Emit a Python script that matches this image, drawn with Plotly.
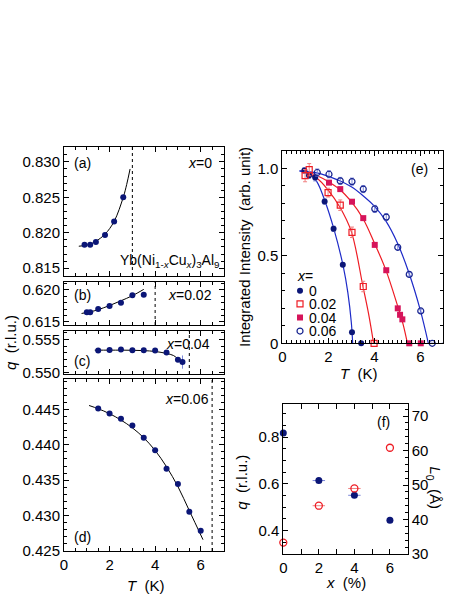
import plotly.graph_objects as go

# ---- data: panels (a)-(d), modulation q vs T ----
T_a = [0.9, 1.15, 1.4, 1.8, 2.2, 2.6]
q_a = [0.8183, 0.8183, 0.8187, 0.8197, 0.8216, 0.8250]
fitT_a = [0.65, 0.9, 1.15, 1.4, 1.8, 2.2, 2.6, 2.75, 2.9]
fitq_a = [0.8181, 0.8182, 0.8184, 0.8188, 0.8198, 0.8216, 0.8250, 0.8268, 0.8290]

T_b = [1.0, 1.15, 1.5, 2.0, 2.5, 3.0, 3.5]
q_b = [0.6165, 0.6165, 0.6170, 0.61747, 0.6180, 0.61916, 0.61926]
fitT_b = [0.77, 1.15, 1.5, 2.0, 2.5, 3.0, 3.5]
fitq_b = [0.6163, 0.61655, 0.6169, 0.61755, 0.6183, 0.6191, 0.6201]

T_c = [1.5, 2.0, 2.5, 3.0, 3.5, 4.0, 4.5, 5.0, 5.2]
q_c = [0.55335, 0.55344, 0.5535, 0.5534, 0.5534, 0.55335, 0.55305, 0.55194, 0.5516]
err_c = [0, 0, 0, 0, 0, 0, 0, 0, 0.001]
fitT_c = [1.35, 2.0, 2.5, 3.0, 3.5, 4.0, 4.5, 4.8, 5.0, 5.2]
fitq_c = [0.5534, 0.5534, 0.5534, 0.55338, 0.55333, 0.5532, 0.5529, 0.5526, 0.5521, 0.5516]

T_d = [1.5, 2.0, 2.5, 3.0, 3.5, 4.0, 4.5, 5.0, 5.5, 6.0]
q_d = [0.44514, 0.44444, 0.44367, 0.44274, 0.44099, 0.43925, 0.43661, 0.43445, 0.43054, 0.42785]
fitT_d = [1.1, 1.5, 2.0, 2.5, 3.0, 3.5, 4.0, 4.5, 5.0, 5.5, 6.1]
fitq_d = [0.44556, 0.4451, 0.4444, 0.4435, 0.4424, 0.4410, 0.4392, 0.4369, 0.4341, 0.4307, 0.4266]

# transition temperatures (dotted lines)
Tn = [3.0, 4.0, 5.5, 6.5]

# ---- data: panel (e), integrated intensity ----
T_e0 = [0.96, 1.16, 1.43, 1.84, 2.23, 2.63, 3.03, 3.43]
I_e0 = [0.989, 0.960, 0.949, 0.811, 0.655, 0.449, 0.063, 0.0]
err_e0 = [0.015, 0.015, 0.02, 0.015, 0.015, 0.01, 0.01, 0]
T_e02 = [0.99, 1.17, 1.99, 2.52, 3.03, 3.52, 3.99]
I_e02 = [0.959, 0.993, 0.862, 0.790, 0.635, 0.325, 0.0]
err_e02 = [0.035, 0.035, 0.025, 0.03, 0.03, 0.03, 0]
T_e04 = [2.03, 2.52, 3.03, 3.52, 4.02, 4.52, 5.02, 5.12, 5.22, 5.52, 6.02]
I_e04 = [0.919, 0.882, 0.810, 0.716, 0.563, 0.418, 0.200, 0.163, 0.137, 0.0, 0.0]
T_e06 = [1.52, 2.03, 2.52, 3.03, 3.52, 4.02, 4.52, 5.02, 5.52, 6.02, 6.52, 7.02]
I_e06 = [0.977, 0.967, 0.929, 0.925, 0.882, 0.769, 0.722, 0.549, 0.394, 0.185, 0.0, 0.0]
err_e06 = [0.02, 0.02, 0.02, 0.02, 0.02, 0.02, 0.02, 0.015, 0.01, 0.01, 0, 0]

fitT_e0 = [0.75, 1.2, 1.5, 1.85, 2.25, 2.65, 2.85, 3.0, 3.06]
fitI_e0 = [0.986, 0.965, 0.925, 0.815, 0.650, 0.440, 0.29, 0.12, 0.0]
fitT_e02 = [0.9, 1.5, 2.0, 2.5, 3.0, 3.5, 3.75, 3.97]
fitI_e02 = [0.986, 0.945, 0.875, 0.78, 0.64, 0.33, 0.17, 0.0]
fitT_e04 = [1.0, 1.5, 2.0, 2.5, 3.0, 3.5, 4.0, 4.5, 5.0, 5.25, 5.44]
fitI_e04 = [0.985, 0.96, 0.925, 0.88, 0.81, 0.715, 0.575, 0.42, 0.22, 0.11, 0.0]
fitT_e06 = [0.75, 1.5, 2.0, 2.5, 3.0, 3.5, 4.0, 4.5, 5.0, 5.5, 6.0, 6.35]
fitI_e06 = [0.986, 0.975, 0.955, 0.93, 0.895, 0.845, 0.785, 0.70, 0.575, 0.405, 0.19, 0.0]

legend_names = ["0", "0.02", "0.04", "0.06"]
legend_T = [0.77, 0.77, 0.77, 0.77]
legend_I = [0.30, 0.225, 0.147, 0.070]

# ---- data: panel (f) ----
x_f = [0, 2, 4, 6]
q_f = [0.817, 0.614, 0.551, 0.444]
L0_f = [33.3, 44.0, 49.0, 60.8]
xerr_f = [0, 0.35, 0.35, 0]

NAVY = "#0b1677"
BLUE = "#1e2bc8"
RED = "#ee1c24"
CRIMSON = "#d6145a"
FONT = "Liberation Sans, Arial, sans-serif"

W, H = 463, 599


def dx(p):
    return p / W


def dy(p):
    return 1 - p / H


fig = go.Figure()

panels = [
    ("x", "y", T_a, q_a, None, fitT_a, fitq_a),
    ("x2", "y2", T_b, q_b, None, fitT_b, fitq_b),
    ("x3", "y3", T_c, q_c, err_c, fitT_c, fitq_c),
    ("x4", "y4", T_d, q_d, None, fitT_d, fitq_d),
]
for (xa, ya, tt, qq, ee, ft, fq) in panels:
    fig.add_trace(go.Scatter(x=ft, y=fq, xaxis=xa, yaxis=ya, mode="lines",
                             line=dict(color="black", width=1, shape="spline"),
                             showlegend=False, hoverinfo="skip"))
    fig.add_trace(go.Scatter(
        x=tt, y=qq, xaxis=xa, yaxis=ya, mode="markers",
        marker=dict(color=NAVY, size=6),
        error_y=dict(type="data", array=ee, color="#7c86d8", thickness=1, width=0) if ee else None,
        showlegend=False))

# dotted transition lines
for (xa, ya), t in zip([("x", "y"), ("x2", "y2"), ("x3", "y3"), ("x4", "y4")], Tn):
    fig.add_shape(type="line", xref=xa, yref=ya + " domain", x0=t, x1=t, y0=0, y1=1,
                  line=dict(color="black", width=1, dash="dot"))

# panel (e) fits
for ft, fi, col in [(fitT_e0, fitI_e0, BLUE), (fitT_e02, fitI_e02, RED),
                    (fitT_e04, fitI_e04, RED), (fitT_e06, fitI_e06, BLUE)]:
    fig.add_trace(go.Scatter(x=ft, y=fi, xaxis="x5", yaxis="y5", mode="lines",
                             line=dict(color=col, width=1.2, shape="spline"),
                             showlegend=False, hoverinfo="skip", cliponaxis=False))

e_series = [
    (T_e0, I_e0, err_e0, dict(symbol="circle", color=NAVY, size=6), "#7c86d8"),
    (T_e02, I_e02, err_e02, dict(symbol="square-open", color=RED, size=6, line=dict(width=1.2)), "#f08080"),
    (T_e04, I_e04, None, dict(symbol="square", color=CRIMSON, size=6), "#f08080"),
    (T_e06, I_e06, err_e06, dict(symbol="circle-open", color="#16238f", size=6, line=dict(width=1.2)), "#7c86d8"),
]
for tt, ii, ee, mk, ec in e_series:
    fig.add_trace(go.Scatter(
        x=tt, y=ii, xaxis="x5", yaxis="y5", mode="markers", marker=mk, cliponaxis=False,
        error_y=dict(type="data", array=ee, color=ec, thickness=1, width=2) if ee else None,
        showlegend=False))

# hand-made legend inside (e)
for (tt, ii, ee, mk, ec), lt, li, nm in zip(e_series, legend_T, legend_I, legend_names):
    fig.add_trace(go.Scatter(x=[lt], y=[li], xaxis="x5", yaxis="y5", mode="markers",
                             marker=mk, showlegend=False, hoverinfo="skip"))
    fig.add_annotation(x=lt, y=li, xref="x5", yref="y5", text=nm, showarrow=False,
                       xanchor="left", xshift=7, font=dict(size=14, family=FONT, color="black"))
fig.add_annotation(x=legend_T[0], y=legend_I[0], xref="x5", yref="y5", text="<i>x</i>=",
                   showarrow=False, xanchor="left", yshift=15, xshift=-5,
                   font=dict(size=14, family=FONT, color="black"))

# panel (f)
fig.add_trace(go.Scatter(x=x_f, y=q_f, xaxis="x6", yaxis="y6", mode="markers",
                         marker=dict(color=NAVY, size=7), cliponaxis=False,
                         error_x=dict(type="data", array=xerr_f, color="#7c86d8", thickness=1, width=0),
                         showlegend=False))
fig.add_trace(go.Scatter(x=x_f, y=L0_f, xaxis="x6", yaxis="y7", mode="markers",
                         marker=dict(symbol="circle-open", color=RED, size=7, line=dict(width=1.3)),
                         cliponaxis=False,
                         error_x=dict(type="data", array=xerr_f, color="#f08080", thickness=1, width=0),
                         showlegend=False))

tickfont = dict(size=15, family=FONT, color="black")
common = dict(showline=True, linecolor="black", linewidth=1, ticks="inside", ticklen=5,
              tickcolor="black", showgrid=False, zeroline=False, mirror="allticks",
              tickfont=tickfont, automargin=False)

left_x = [dx(64), dx(223.5)]
layout = dict(
    width=W, height=H, margin=dict(l=0, r=0, t=0, b=0),
    paper_bgcolor="white", plot_bgcolor="white", showlegend=False,
    font=dict(family=FONT, color="black"),
)
y_specs = [
    ("", [276, 147], [0.8139, 0.8321], 0.005, 0.001, ".3f"),
    ("2", [325, 282], [0.61448, 0.62126], 0.005, 0.001, ".3f"),
    ("3", [374, 331], [0.5498, 0.55629], 0.005, 0.001, ".3f"),
    ("4", [551, 379], [0.425, 0.4493], 0.005, 0.001, ".3f"),
]
for s, (b, t), rng, dt, mdt, fmt in y_specs:
    layout["xaxis" + s] = dict(common, domain=left_x, anchor="y" + s, range=[0, 7],
                               dtick=2, tick0=0, showticklabels=(s == "4"),
                               minor=dict(dtick=0.5, ticklen=3, ticks="inside", tickcolor="black"))
    layout["yaxis" + s] = dict(common, domain=[dy(b), dy(t)], anchor="x" + s, range=rng,
                               dtick=dt, tick0=0, tickformat=fmt,
                               minor=dict(dtick=mdt, ticklen=3, ticks="inside", tickcolor="black"))

layout["xaxis5"] = dict(common, domain=[dx(282.3), dx(443.3)], anchor="y5", range=[0, 7],
                        dtick=2, tick0=0,
                        minor=dict(dtick=0.2, ticklen=3, ticks="inside", tickcolor="black"))
layout["yaxis5"] = dict(common, domain=[dy(343.3), dy(151)], anchor="x5", range=[0, 1.1],
                        tickvals=[0, 0.5, 1.0], ticktext=["0", "0.5", "1.0"],
                        minor=dict(dtick=0.1, ticklen=3, ticks="inside", tickcolor="black"))

layout["xaxis6"] = dict(common, domain=[dx(283.3), dx(407.7)], anchor="y6", range=[0, 7],
                        dtick=2, tick0=0,
                        minor=dict(dtick=1, ticklen=3, ticks="inside", tickcolor="black"))
layout["yaxis6"] = dict(common, domain=[dy(554), dy(404.3)], anchor="x6", range=[0.3, 0.94],
                        dtick=0.2, tick0=0, tickformat=".1f", mirror=True,
                        minor=dict(dtick=0.05, ticklen=3, ticks="inside", tickcolor="black"))
layout["yaxis7"] = dict(common, anchor="x6", overlaying="y6", side="right", range=[30, 73.4],
                        dtick=10, tick0=0, mirror=False,
                        minor=dict(dtick=2, ticklen=3, ticks="inside", tickcolor="black"))
fig.update_layout(**layout)

# text labels, placed in pixel terms
txt = dict(size=14, family=FONT, color="black")
labels = [
    ("(a)", 72, 162.7, "left"), ("<i>x</i>=0", 214, 162.7, "right"),
    ("Yb(Ni<sub>1-<i>x</i></sub>Cu<sub><i>x</i></sub>)<sub>3</sub>Al<sub>9</sub>", 221, 261, "right"),
    ("(b)", 72, 295, "left"), ("<i>x</i>=0.02", 213.5, 295, "right"),
    ("(c)", 72, 361, "left"), ("<i>x</i>=0.04", 212, 344.3, "right"),
    ("<i>x</i>=0.06", 211, 399, "right"), ("(d)", 72, 536.7, "left"),
    ("(e)", 430, 169.3, "right"), ("(f)", 392, 422.3, "right"),
]
for text, px, py, anc in labels:
    fig.add_annotation(x=dx(px), y=dy(py), xref="paper", yref="paper", text=text,
                       showarrow=False, xanchor=anc, yanchor="middle", font=txt)

title_font = dict(size=15, family=FONT, color="black")
titles = [
    ("<i>T</i>  (K)", 146, 585.7, 0), ("<i>T</i>  (K)", 359, 373.3, 0),
    ("<i>x</i>  (%)", 346, 582.3, 0),
    ("<i>q</i>  (r.l.u.)", 10, 343, -90),
    ("Integrated Intensity  (arb. unit)", 244, 247, -90),
    ("<i>q</i>  (r.l.u.)", 242, 481.7, -90),
    ("<i>L</i><sub>0</sub>  (Å)", 434, 487.5, 90),
]
for text, px, py, ang in titles:
    fig.add_annotation(x=dx(px), y=dy(py), xref="paper", yref="paper", text=text,
                       showarrow=False, xanchor="center", yanchor="middle",
                       textangle=ang, font=title_font)

# page body has a default 8px margin; drop it so the figure sits at the window corner
fig.write_html("out.html", config={"displayModeBar": False},
               post_script="document.body.style.margin='0';")
